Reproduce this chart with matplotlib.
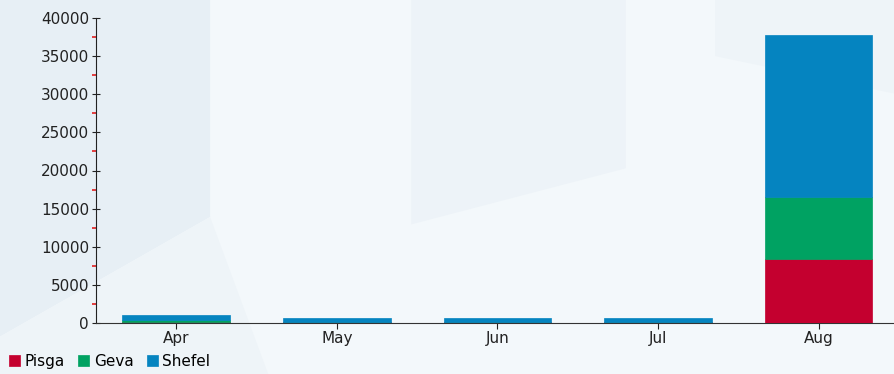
import matplotlib
matplotlib.use("Agg")
import matplotlib.pyplot as plt
from matplotlib.patches import Polygon
from matplotlib.ticker import MultipleLocator

months = ["Apr", "May", "Jun", "Jul", "Aug"]
pisga = [150, 100, 100, 100, 8400]
geva = [200, 30, 30, 30, 8100]
shefel = [650, 520, 520, 520, 21300]

colors = {"Pisga": "#c4002f", "Geva": "#00a262", "Shefel": "#0584c0"}

plt.rcParams["font.family"] = ["DejaVu Sans"]

fig = plt.figure(figsize=(8.94, 3.74), dpi=100)
fig.patch.set_facecolor("#f3f8fb")

# faint background shapes, on their own axes behind everything
bg_ax = fig.add_axes([0, 0, 1, 1], zorder=-1)
bg_ax.set_xlim(0, 1)
bg_ax.set_ylim(0, 1)
bg_ax.axis("off")
bg = [
    ([(0, 1), (0.235, 1), (0.235, 0.42), (0, 0.1)], "#e7eff5"),
    ([(0.46, 1), (0.70, 1), (0.70, 0.55), (0.46, 0.40)], "#edf3f8"),
    ([(0, 0.1), (0.235, 0.42), (0.30, 0.0), (0, 0)], "#eef4f8"),
    ([(0.80, 1), (1, 1), (1, 0.75), (0.80, 0.85)], "#eef4f8"),
]
for pts, c in bg:
    bg_ax.add_patch(Polygon(pts, closed=True, facecolor=c, edgecolor="none"))

ax = fig.add_axes([96 / 894, 51 / 374, 1 - 96 / 894, 305 / 374], zorder=1)
ax.set_facecolor("none")

x = range(len(months))
bottom = [0] * len(months)
for name, vals in [("Pisga", pisga), ("Geva", geva), ("Shefel", shefel)]:
    ax.bar(x, vals, width=0.67, bottom=bottom, color=colors[name],
           edgecolor=colors[name], linewidth=0.5, label=name, zorder=3)
    bottom = [b + v for b, v in zip(bottom, vals)]

ax.set_xlim(-0.5, 4.47)
ax.set_ylim(0, 40000)
ax.set_xticks(list(x))
ax.set_xticklabels(months)
ax.yaxis.set_major_locator(MultipleLocator(5000))
ax.yaxis.set_minor_locator(MultipleLocator(2500))

for s in ["top", "right"]:
    ax.spines[s].set_visible(False)
ax.spines["left"].set_color("#222222")
ax.spines["bottom"].set_color("#333333")

ax.tick_params(axis="y", which="major", direction="inout", length=6,
               labelsize=11, colors="#222222", pad=2)
ax.tick_params(axis="y", which="minor", direction="out", length=3,
               color="#e02020", width=1.2)
ax.tick_params(axis="x", which="major", direction="out", length=4,
               labelsize=11, colors="#222222", pad=2)

fig.legend(loc="lower left", bbox_to_anchor=(0.0, -0.01), ncol=3, frameon=False,
           fontsize=11, handlelength=0.7, handleheight=0.7, handletextpad=0.3,
           columnspacing=0.9, borderaxespad=0.2)

fig.savefig("out.png", dpi=100, facecolor=fig.get_facecolor())
